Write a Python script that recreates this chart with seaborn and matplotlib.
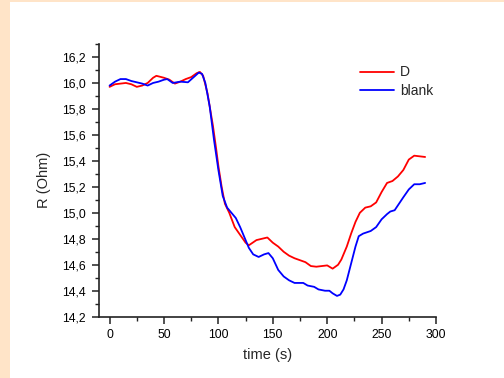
import matplotlib
matplotlib.use("Agg")
import matplotlib.pyplot as plt
import matplotlib.patches as mpatches
from matplotlib.ticker import MultipleLocator, FuncFormatter
import seaborn as sns
import pandas as pd

t_d = [0, 5, 10, 15, 20, 25, 30, 35, 40, 43, 50, 55, 60, 65, 70, 75, 80, 83, 86, 90, 95, 98,
       100, 103, 106, 110, 115, 120, 125, 128, 135, 140, 145, 150, 155, 160, 165, 170, 180,
       185, 190, 200, 205, 210, 213, 218, 222, 226, 230, 235, 240, 245, 250, 255, 260, 265,
       270, 275, 280, 285, 290]
r_d = [15.97, 15.99, 15.995, 16.0, 15.99, 15.97, 15.98, 16.0, 16.04, 16.055, 16.04, 16.025,
       15.995, 16.01, 16.03, 16.045, 16.075, 16.085, 16.055, 15.92, 15.67, 15.49, 15.36, 15.2,
       15.07, 15.0, 14.89, 14.83, 14.77, 14.75, 14.79, 14.80, 14.81, 14.77, 14.74, 14.70, 14.67,
       14.65, 14.62, 14.59, 14.585, 14.595, 14.57, 14.6, 14.64, 14.74, 14.84, 14.93, 15.0, 15.04,
       15.05, 15.08, 15.16, 15.23, 15.245, 15.28, 15.33, 15.41, 15.44, 15.435, 15.43]

t_b = [0, 5, 10, 15, 20, 25, 30, 35, 40, 45, 50, 53, 58, 65, 72, 78, 82, 85, 88, 92, 96, 100,
       104, 108, 112, 116, 120, 125, 128, 132, 137, 142, 146, 150, 155, 160, 165, 170, 178, 182,
       188, 192, 198, 202, 205, 209, 212, 215, 218, 222, 226, 229, 233, 240, 245, 250, 255, 258,
       262, 266, 270, 275, 280, 285, 290]
r_b = [15.98, 16.01, 16.03, 16.03, 16.015, 16.005, 15.995, 15.98, 16.0, 16.01, 16.025, 16.03,
       16.0, 16.01, 16.005, 16.05, 16.08, 16.07, 16.0, 15.82, 15.56, 15.33, 15.13, 15.04, 15.0,
       14.96, 14.89, 14.79, 14.73, 14.68, 14.66, 14.68, 14.69, 14.65, 14.56, 14.51, 14.48, 14.46,
       14.46, 14.44, 14.43, 14.41, 14.40, 14.40, 14.38, 14.36, 14.37, 14.41, 14.48, 14.61, 14.74,
       14.82, 14.84, 14.86, 14.89, 14.95, 14.99, 15.01, 15.02, 15.07, 15.12, 15.18, 15.22, 15.22,
       15.23]

series_names = ["D", "blank"]
series_colors = ["#ff0000", "#0000ff"]

df = pd.concat([
    pd.DataFrame({"time": t_d, "R": r_d, "series": series_names[0]}),
    pd.DataFrame({"time": t_b, "R": r_b, "series": series_names[1]}),
])

sns.set_style("ticks")
plt.rcParams["font.family"] = ["Liberation Sans", "DejaVu Sans"]

fig = plt.figure(figsize=(5.04, 3.78), dpi=100)
fig.patch.set_facecolor("white")
fig.patches.append(mpatches.Rectangle((0, 0), 9.5 / 504, 1, transform=fig.transFigure,
                                      facecolor="#FFE4C8", edgecolor="none", zorder=-1))
fig.patches.append(mpatches.Rectangle((0, 1 - 1.5 / 378), 1, 1.5 / 378, transform=fig.transFigure,
                                      facecolor="#FFE4C8", edgecolor="none", zorder=-1))

ax = fig.add_axes([98.7 / 504, 1 - 316.7 / 378, (436 - 98.7) / 504, (316.7 - 44) / 378])
sns.lineplot(data=df, x="time", y="R", hue="series", palette=series_colors,
             ax=ax, linewidth=1.3, sort=False, estimator=None)

ax.set_xlim(-10, 300)
ax.set_ylim(14.2, 16.3)
ax.xaxis.set_major_locator(MultipleLocator(50))
ax.xaxis.set_minor_locator(MultipleLocator(25))
ax.yaxis.set_major_locator(MultipleLocator(0.2))
ax.yaxis.set_minor_locator(MultipleLocator(0.1))
ax.yaxis.set_major_formatter(FuncFormatter(lambda v, p: f"{v:.1f}".replace(".", ",")))
ax.xaxis.set_major_formatter(FuncFormatter(lambda v, p: f"{v:.0f}"))

for s in ["top", "right"]:
    ax.spines[s].set_visible(False)
for s in ["left", "bottom"]:
    ax.spines[s].set_linewidth(1.2)
    ax.spines[s].set_color("#222222")
ax.tick_params(which="major", direction="out", length=5, width=1.1, labelsize=8.8,
               colors="#222222", labelcolor="black", pad=4)
ax.tick_params(which="minor", direction="out", length=3, width=1.0, colors="#222222")
ax.set_facecolor("white")

ax.set_xlabel("time (s)", fontsize=10.5, labelpad=5)
ax.set_ylabel("R (Ohm)", fontsize=10.5, labelpad=8)

leg = ax.legend(loc="upper left", bbox_to_anchor=(347 / 504, 1 - 53 / 378),
                bbox_transform=fig.transFigure, frameon=False, fontsize=10,
                handlelength=2.5, handletextpad=0.4, labelspacing=0.3)

fig.savefig("out.png", dpi=100)
